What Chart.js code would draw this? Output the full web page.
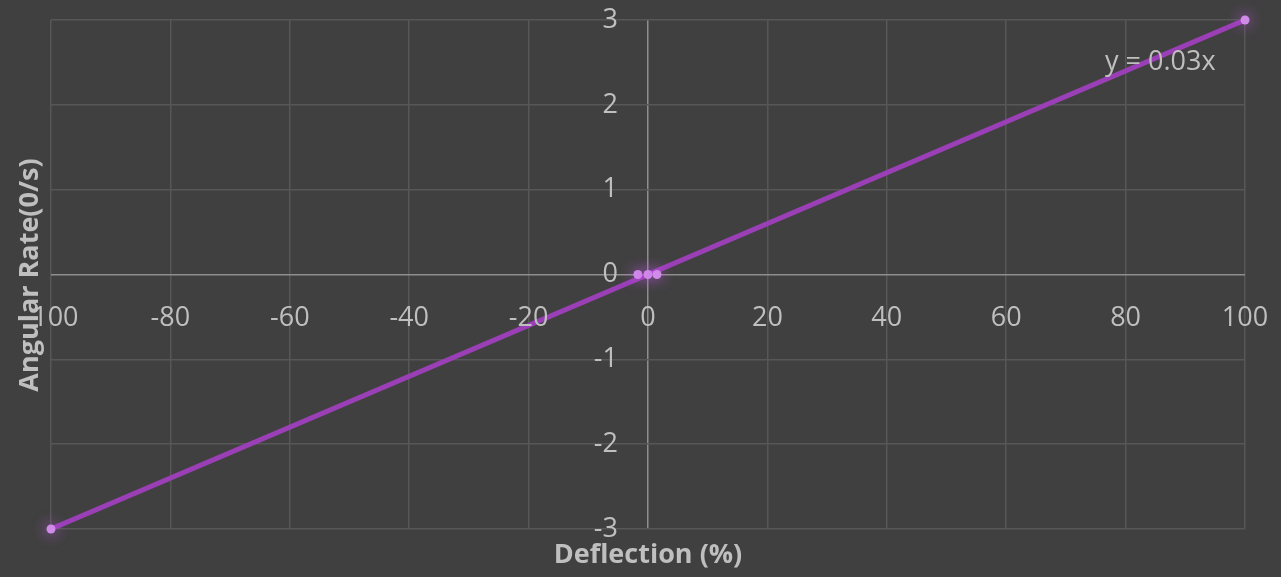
<!DOCTYPE html>
<html>
<head>
<meta charset="utf-8">
<script src="https://cdn.jsdelivr.net/npm/chart.js@4/dist/chart.umd.min.js"></script>
<style>
  html, body { margin: 0; padding: 0; background: #404040; }
  #wrap { width: 1281px; height: 577px; }
</style>
</head>
<body>
<div id="wrap"><canvas id="c" width="1281" height="577"></canvas></div>
<script>
// Measured deflection (%) against angular rate
const deflection = [-100, -1.7, 0, 1.5, 100];
const angularRate = [-3, 0, 0, 0, 3];

// Linear fit through the origin
const trendSlope = 0.03;
const trendLabel = 'y = 0.03x';
const trendRange = [-100, 100];

// Axis ticks
const xTicks = [-100, -80, -60, -40, -20, 0, 20, 40, 60, 80, 100];
const xTickLabels = ['-100', '-80', '-60', '-40', '-20', '0', '20', '40', '60', '80', '100'];
const yTicks = [-3, -2, -1, 0, 1, 2, 3];
const yTickLabels = ['-3', '-2', '-1', '0', '1', '2', '3'];

const xTitle = 'Deflection (%)';
const yTitle = 'Angular Rate(0/s)';

const TEXT = '#bfbfbf';
const FONT = '"Open Sans", "DejaVu Sans", sans-serif';

const trendPoints = trendRange.map(x => ({ x: x, y: trendSlope * x }));
const dataPoints = deflection.map((x, i) => ({ x: x, y: angularRate[i] }));

// Draws tick labels along the crossing zero axes, axis titles and the fit label
const axisText = {
  id: 'axisText',
  afterDraw(chart) {
    const { ctx, scales: { x, y } } = chart;
    const x0 = x.getPixelForValue(0);
    const y0 = y.getPixelForValue(0);
    ctx.save();
    ctx.fillStyle = TEXT;
    ctx.font = '27px ' + FONT;
    ctx.textAlign = 'center';
    ctx.textBaseline = 'middle';
    xTicks.forEach((v, i) => ctx.fillText(xTickLabels[i], x.getPixelForValue(v), y0 + 44));
    ctx.textAlign = 'right';
    yTicks.forEach((v, i) => ctx.fillText(yTickLabels[i], x0 - 30, y.getPixelForValue(v)));

    // fit equation
    ctx.textAlign = 'left';
    ctx.fillText(trendLabel, 1105, 62);

    // titles
    ctx.font = 'bold 27px ' + FONT;
    ctx.textAlign = 'center';
    ctx.fillText(xTitle, (chart.chartArea.left + chart.chartArea.right) / 2, 555);
    ctx.translate(30, 275);
    ctx.rotate(-Math.PI / 2);
    ctx.fillText(yTitle, 0, 0);
    ctx.restore();
  }
};

// Soft glow around the measured markers
const markerGlow = {
  id: 'markerGlow',
  beforeDatasetDraw(chart, args) {
    if (args.meta.label !== 'Measured') return;
    chart.ctx.save();
    chart.ctx.shadowColor = 'rgba(200, 90, 240, 1)';
    chart.ctx.shadowBlur = 14;
  },
  afterDatasetDraw(chart, args) {
    if (args.meta.label !== 'Measured') return;
    chart.ctx.restore();
  }
};

new Chart(document.getElementById('c'), {
  type: 'scatter',
  data: {
    datasets: [
      {
        label: 'Linear fit',
        data: trendPoints,
        order: 2,
        showLine: true,
        borderColor: '#9a3fb6',
        borderWidth: 5,
        pointRadius: 0,
        fill: false
      },
      {
        label: 'Measured',
        data: dataPoints,
        order: 1,
        clip: false,
        showLine: false,
        pointRadius: 4.5,
        pointBackgroundColor: '#d08ae8',
        pointBorderColor: '#d08ae8',
        pointBorderWidth: 0
      }
    ]
  },
  options: {
    responsive: false,
    animation: false,
    devicePixelRatio: 1,
    layout: { padding: { left: 51, top: 20, right: 36, bottom: 48 } },
    plugins: { legend: { display: false }, tooltip: { enabled: false } },
    scales: {
      x: {
        type: 'linear',
        min: -100,
        max: 100,
        afterBuildTicks: s => { s.ticks = xTicks.map(v => ({ value: v })); },
        ticks: { display: false },
        border: { display: false },
        grid: {
          drawTicks: false,
          color: c => (c.tick && c.tick.value === 0 ? '#8e8e8e' : '#575757'),
          lineWidth: 1.5
        },
        title: { display: false }
      },
      y: {
        type: 'linear',
        min: -3,
        max: 3,
        afterBuildTicks: s => { s.ticks = yTicks.map(v => ({ value: v })); },
        ticks: { display: false },
        border: { display: false },
        grid: {
          drawTicks: false,
          color: c => (c.tick && c.tick.value === 0 ? '#8e8e8e' : '#575757'),
          lineWidth: 1.5
        },
        title: { display: false }
      }
    }
  },
  plugins: [markerGlow, axisText]
});
</script>
</body>
</html>
